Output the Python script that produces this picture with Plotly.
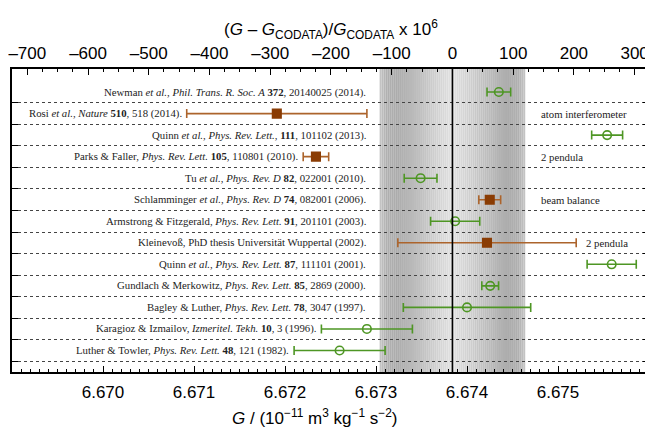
import plotly.graph_objects as go
import numpy as np

# ---------------- data ----------------
refs = [
    "Newman <i>et al.</i>, <i>Phil. Trans. R. Soc. A</i> <b>372</b>, 20140025 (2014).",
    "Rosi <i>et al.</i>, <i>Nature</i> <b>510</b>, 518 (2014).",
    "Quinn <i>et al.</i>, <i>Phys. Rev. Lett.</i>, <b>111</b>, 101102 (2013).",
    "Parks &amp; Faller, <i>Phys. Rev. Lett.</i> <b>105</b>, 110801 (2010).",
    "Tu <i>et al.</i>, <i>Phys. Rev. D</i> <b>82</b>, 022001 (2010).",
    "Schlamminger <i>et al.</i>, <i>Phys. Rev. D</i> <b>74</b>, 082001 (2006).",
    "Armstrong &amp; Fitzgerald, <i>Phys. Rev. Lett.</i> <b>91</b>, 201101 (2003).",
    "Kleinevoß, PhD thesis Universität Wuppertal (2002).",
    "Quinn <i>et al.</i>, <i>Phys. Rev. Lett.</i> <b>87</b>, 111101 (2001).",
    "Gundlach &amp; Merkowitz, <i>Phys. Rev. Lett.</i> <b>85</b>, 2869 (2000).",
    "Bagley &amp; Luther, <i>Phys. Rev. Lett.</i> <b>78</b>, 3047 (1997).",
    "Karagioz &amp; Izmailov, <i>Izmeritel. Tekh.</i> <b>10</b>, 3 (1996).",
    "Luther &amp; Towler, <i>Phys. Rev. Lett.</i> <b>48</b>, 121 (1982).",
]
G_values = [6.67435, 6.67191, 6.67554, 6.67234, 6.67349, 6.67425, 6.67387,
            6.67422, 6.67559, 6.674255, 6.67400, 6.67290, 6.67260]
G_errors = [0.00013, 0.00099, 0.00017, 0.00014, 0.00018, 0.00012, 0.00027,
            0.00098, 0.00027, 0.000092, 0.00070, 0.00050, 0.00050]
kinds = ["torsion", "other", "torsion", "other", "torsion", "other", "torsion",
         "other", "torsion", "torsion", "torsion", "torsion", "torsion"]
notes = ["", "atom interferometer", "", "2 pendula", "", "beam balance", "",
         "2 pendula", "", "", "", "", ""]

G_CODATA = 6.67384
U_CODATA = 0.00080

x_range = [6.669, 6.676]
bottom_ticks = [6.670, 6.671, 6.672, 6.673, 6.674, 6.675]
top_ticks = [-700, -600, -500, -400, -300, -200, -100, 0, 100, 200, 300]

# ---------------- styles ----------------
GREEN = "rgb(78,150,36)"
BROWN_BAR = "rgb(172,100,44)"
BROWN_MARK = "rgb(138,60,4)"
SERIF = "Liberation Serif"
SANS = "Liberation Sans"

rows = list(range(1, len(refs) + 1))

fig = go.Figure()

for kind, color, mcol, sym, msize in [
    ("torsion", GREEN, GREEN, "circle-open", 8.5),
    ("other", BROWN_BAR, BROWN_MARK, "square", 8.5),
]:
    idx = [i for i, k in enumerate(kinds) if k == kind]
    fig.add_trace(go.Scatter(
        x=[G_values[i] for i in idx],
        y=[rows[i] for i in idx],
        mode="markers",
        marker=dict(symbol=sym, size=msize, color=mcol,
                    line=dict(color=mcol, width=1.6)),
        error_x=dict(type="data", array=[G_errors[i] for i in idx],
                     color=color, thickness=1.6, width=4.5),
        showlegend=False, hoverinfo="skip",
    ))

# invisible trace on the top (relative) axis
ppm = [(g - G_CODATA) / G_CODATA * 1e6 for g in G_values]
fig.add_trace(go.Scatter(x=ppm, y=rows, xaxis="x2", mode="markers",
                         marker=dict(opacity=0), showlegend=False,
                         hoverinfo="skip"))

# shaded CODATA band (cylinder-like shading on each half)
def shade(d):
    pts_d = [0.0, 0.12, 0.45, 0.75, 0.9, 1.0]
    pts_v = [226, 216, 192, 172, 176, 198]
    return float(np.interp(d, pts_d, pts_v))

n = 36
shapes = []
for side in (-1, 1):
    for k in range(n):
        d0, d1 = k / n, (k + 1) / n
        v = int(round(shade((d0 + d1) / 2)))
        xa = G_CODATA + side * d0 * U_CODATA
        xb = G_CODATA + side * d1 * U_CODATA
        shapes.append(dict(type="rect", xref="x", yref="paper",
                           x0=min(xa, xb), x1=max(xa, xb), y0=0, y1=1,
                           fillcolor=f"rgb({v},{v},{v})",
                           line=dict(width=0), layer="below"))
shapes.append(dict(type="line", xref="x", yref="paper", x0=G_CODATA,
                   x1=G_CODATA, y0=0, y1=1,
                   line=dict(color="black", width=1.6), layer="above"))

# annotations: references and method notes
annotations = []
px = (x_range[1] - x_range[0]) / 637.0
label_limit = 6.67291
note_limit = 6.67479
for i, r in enumerate(refs):
    xl = min(G_values[i] - G_errors[i] - 3 * px, label_limit)
    annotations.append(dict(x=xl, y=rows[i], xref="x", yref="y", text=r,
                            showarrow=False, xanchor="right", yanchor="middle",
                            font=dict(family=SERIF, size=10.75, color="#222")))
    if notes[i]:
        xn = max(G_values[i] + G_errors[i] + 8 * px, note_limit)
        annotations.append(dict(x=xn, y=rows[i], xref="x", yref="y",
                                text=notes[i], showarrow=False,
                                xanchor="left", yanchor="middle",
                                font=dict(family=SERIF, size=10.75, color="#222")))

annotations.append(dict(
    x=0.5, y=1.132, xref="paper", yref="paper", showarrow=False,
    xanchor="center", yanchor="middle",
    text="(<i>G</i> – <i>G</i><sub>CODATA</sub>)/<i>G</i><sub>CODATA</sub> x 10<sup>6</sup>",
    font=dict(family=SANS, size=17, color="black")))
annotations.append(dict(
    x=0.476, y=-0.148, xref="paper", yref="paper", showarrow=False,
    xanchor="center", yanchor="middle",
    text="<i>G</i> / (10<sup>−11</sup> m<sup>3</sup> kg<sup>−1</sup> s<sup>−2</sup>)",
    font=dict(family=SANS, size=17, color="black")))

top_range = [(x - G_CODATA) / G_CODATA * 1e6 for x in x_range]

# the page adds an 8 px body margin; the figure is sized to compensate
fig.update_layout(
    width=645, height=423,
    margin=dict(l=4, r=4, t=61, b=59, autoexpand=False),
    paper_bgcolor="white", plot_bgcolor="white",
    shapes=shapes, annotations=annotations,
    xaxis=dict(range=x_range, tickvals=bottom_ticks,
               ticktext=[f"{t:.3f}" for t in bottom_ticks],
               ticks="inside", ticklen=6, tickwidth=1.2, tickcolor="black",
               minor=dict(dtick=0.0001, tick0=6.669, ticks="inside",
                          ticklen=3, tickwidth=1, tickcolor="black"),
               showline=True, linecolor="black", linewidth=1.6,
               showgrid=False, zeroline=False, automargin=False,
               tickfont=dict(family=SANS, size=17, color="black"),
               ticklabelstandoff=4),
    xaxis2=dict(range=top_range, overlaying="x", side="top", anchor="y",
                tickvals=top_ticks,
                ticktext=[("–" + str(-t)) if t < 0 else str(t) for t in top_ticks],
                ticks="inside", ticklen=6, tickwidth=1.2, tickcolor="black",
                minor=dict(dtick=25, tick0=0, ticks="inside", ticklen=3,
                           tickwidth=1, tickcolor="black"),
                showline=True, linecolor="black", linewidth=1.6,
                showgrid=False, zeroline=False, automargin=False,
                tickfont=dict(family=SANS, size=17, color="black"),
                ticklabelstandoff=1),
    yaxis=dict(range=[14, -0.07], tickvals=[r + 0.5 for r in rows],
               showticklabels=False, ticks="inside", ticklen=6,
               tickwidth=1.2, tickcolor="black",
               showgrid=True, gridcolor="#444", griddash="dot", gridwidth=1,
               showline=True, mirror="ticks", linecolor="black",
               linewidth=1.6, zeroline=False, automargin=False),
)

fig.write_html("out.html")
